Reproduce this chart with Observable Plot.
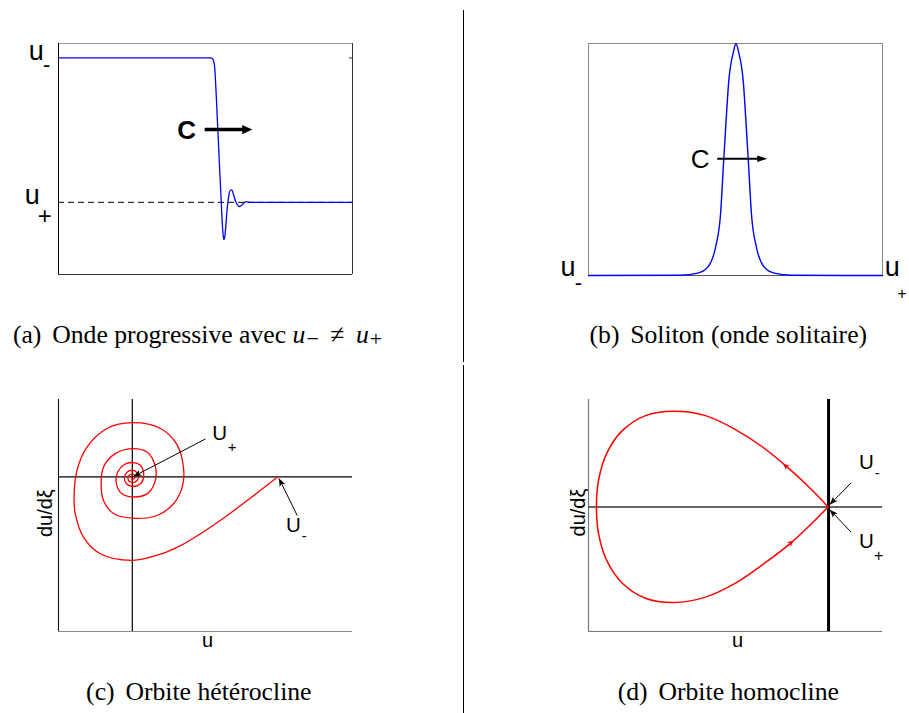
<!DOCTYPE html>
<html><head><meta charset="utf-8">
<script src="https://cdn.jsdelivr.net/npm/d3@7"></script>
<script src="https://cdn.jsdelivr.net/npm/@observablehq/plot@0.6"></script>
<style>
html,body{margin:0;padding:0;background:#fff;}
#fig{position:relative;width:909px;height:713px;overflow:hidden;background:#fff;}
.cap{position:absolute;font-family:"Liberation Serif","Times New Roman",serif;font-size:25.7px;line-height:25px;white-space:nowrap;text-align:center;color:#000;}
.cap .lab{margin-right:0.42em;}
.cap .m{font-style:italic;}
.cap .sub{font-size:0.85em;position:relative;top:3px;line-height:0;margin-left:1px;}
.cap .rel{margin:0 0.45em;}
.vsep{position:absolute;left:463px;width:1px;background:#000;}
</style></head><body>
<div id="fig"></div>
<script>
// ---------- Panel (a): travelling front, u- != u+ ----------
const aX = [0, 5.170, 5.238, 5.282, 5.316, 5.340, 5.374, 5.408, 5.442, 5.476, 5.510, 5.544, 5.578, 5.605, 5.629, 5.656, 5.690, 5.738, 5.793, 5.850, 5.901, 5.952, 6.020, 6.088, 6.156, 6.224, 6.293, 6.361, 6.429, 6.497, 6.599, 10];
const aU = [1, 1, 0.9945, 0.975, 0.927, 0.843, 0.705, 0.553, 0.407, 0.255, 0.109, -0.036, -0.168, -0.237, -0.258, -0.237, -0.168, -0.043, 0.047, 0.084, 0.084, 0.054, 0.009, -0.019, -0.029, -0.022, -0.006, 0.003, 0.003, -0.001, 0, 0];
const aLevels = [1, 0];            // u-, u+
const aXDomain = [0, 10];
const aYDomain = [-0.5, 1.1];
const aArrow = {x1: 4.97, x2: 6.59, y: 0.504};

// ---------- Panel (b): soliton ----------
const bX = [0, 3.146, 3.714, 4.054, 4.323, 4.493, 4.592, 4.66, 4.772, 4.922, 5.017, 5.112, 5.262, 5.374, 5.442, 5.541, 5.711, 5.98, 6.32, 6.888, 10];
const bU = [0, 0.001, 0.010, 0.036, 0.122, 0.267, 0.483, 0.625, 0.84, 0.96, 1, 0.96, 0.84, 0.625, 0.483, 0.267, 0.122, 0.036, 0.010, 0.001, 0];
const bXDomain = [0, 10];
const bYDomain = [0, 1];
const bArrow = {x1: 4.378, x2: 6.078, y: 0.503};

// ---------- Panel (c): heteroclinic orbit (phase plane) ----------
const cU = [7.46, 6.53, 5.68, 4.83, 4.15, 3.47, 2.52, 1.42, 0.85, 0.57, 0.53, 0.63, 0.97, 1.65, 2.51, 3.47, 4.04, 4.26, 4.21, 3.92, 3.35, 2.51, 1.87, 1.53, 1.45, 1.53, 1.93, 2.51, 3.01, 3.30, 3.26, 3.01, 2.51, 2.16, 1.97, 2.01, 2.24, 2.51, 2.78, 2.90, 2.81, 2.51, 2.31, 2.24, 2.33, 2.51, 2.67, 2.72, 2.61, 2.44, 2.36, 2.44, 2.56, 2.60, 2.51, 2.48];
const cV = [0, -0.55, -1.03, -1.47, -1.78, -2.0, -2.16, -1.99, -1.56, -0.95, -0.52, 0.17, 0.77, 1.25, 1.40, 1.25, 0.82, 0.17, -0.26, -0.69, -1.0, -1.07, -0.95, -0.61, -0.22, 0.25, 0.60, 0.73, 0.64, 0.25, -0.18, -0.44, -0.52, -0.44, -0.18, 0.12, 0.32, 0.37, 0.30, 0.04, -0.16, -0.25, -0.18, -0.02, 0.12, 0.17, 0.11, -0.02, -0.13, -0.13, -0.02, 0.06, 0.06, -0.02, -0.07, -0.01];
const cXDomain = [0, 10];
const cYDomain = [-4, 2];
const cUplus = 2.51;
const cArrows = [
  {x1: 5.0, y1: 0.98, x2: 2.55, y2: 0.01},
  {x1: 8.12, y1: -1.0, x2: 7.5, y2: -0.04}
];

// ---------- Panel (d): homoclinic orbit ----------
const dU = [8.15, 7.61, 6.87, 5.91, 5.00, 3.98, 2.90, 1.94, 1.15, 0.64, 0.35, 0.27, 0.35, 0.64, 1.15, 1.94, 2.90, 3.98, 5.00, 5.91, 6.87, 7.61, 8.15];
const dV = [0, 0.155, 0.345, 0.56, 0.72, 0.85, 0.89, 0.85, 0.71, 0.51, 0.26, 0, -0.26, -0.51, -0.71, -0.85, -0.89, -0.84, -0.71, -0.54, -0.34, -0.15, 0];
const dXDomain = [0, 10];
const dYDomain = [-1.16, 1.0];
const dSaddle = 8.165;
const dArrows = [
  {x1: 8.935, y1: 0.224, x2: 8.207, y2: 0.022},
  {x1: 8.935, y1: -0.236, x2: 8.207, y2: -0.027}
];
const dFlow = [
  {x1: 7.27, y1: 0.25, x2: 6.62, y2: 0.401},
  {x1: 5.91, y1: -0.546, x2: 6.98, y2: -0.313}
];

// ---------- text ----------
const captions = [
  {lab: "(a)", html: 'Onde progressive avec <span class="m">u</span><span class="sub">−</span><span class="rel">≠</span><span class="m">u</span><span class="sub">+</span>'},
  {lab: "(b)", html: "Soliton (onde solitaire)"},
  {lab: "(c)", html: "Orbite hétérocline"},
  {lab: "(d)", html: "Orbite homocline"}
];
const axisLabels = ["u", "du/dξ"];

// ---------- helpers ----------
const KX = 29.4;
const fig = document.getElementById("fig");
const st = {fontFamily: "'Liberation Sans', Arial, sans-serif", background: "transparent", overflow: "visible", color: "#000"};
function rot(a, ky) { return Math.atan2(-(a.y2 - a.y1) * ky, (a.x2 - a.x1) * KX) * 180 / Math.PI; }
function head(L, W, B) { return {draw(ctx) { ctx.moveTo(0, 0); ctx.lineTo(-L, -W); ctx.lineTo(-B, 0); ctx.lineTo(-L, W); ctx.closePath(); }}; }
const triA = head(10, 4.6, 10), triB = head(10, 3.3, 10), barb = head(8, 3.2, 6), barbRed = head(6.5, 3, 4.5);
function label(s, x, y, size, o = {}) {
  return Plot.text([s], {text: d => d, x, y, fontSize: size, textAnchor: "start", lineAnchor: "bottom", fill: "#000", ...o});
}
function place(svg, left, top) {
  svg.style.position = "absolute"; svg.style.left = left + "px"; svg.style.top = top + "px";
  fig.appendChild(svg);
}
const rows = (xs, ys) => xs.map((x, i) => ({x, y: ys[i]}));

// ---------- (a) ----------
place(Plot.plot({
  width: 460, height: 360, marginLeft: 58, marginRight: 108, marginTop: 43, marginBottom: 86,
  x: {domain: aXDomain, axis: null}, y: {domain: aYDomain, axis: null}, style: st,
  marks: [
    Plot.ruleY([aYDomain[1]], {stroke: "#999"}),
    Plot.ruleY([aYDomain[0]], {stroke: "#333"}),
    Plot.ruleX([aXDomain[1]], {stroke: "#333"}),
    Plot.ruleX([aXDomain[0]], {stroke: "#000"}),
    Plot.ruleY([aLevels[0]], {x1: 9.9, x2: 10, stroke: "#333"}),
    Plot.ruleY([aLevels[1]], {stroke: "#000", strokeDasharray: "6,4"}),
    Plot.line(rows(aX, aU), {x: "x", y: "y", stroke: "#0000ff", strokeWidth: 1.3, curve: "monotone-x"}),
    Plot.link([aArrow], {x1: "x1", y1: "y", x2: d => d.x2 - 6 / KX, y2: "y", stroke: "#000", strokeWidth: 3.5, strokeLinecap: "butt"}),
    Plot.dot([aArrow], {x: "x2", y: "y", symbol: triA, fill: "#000", stroke: "none", r: 5}),
    label("u", -1.01, 0.987, 27),
    label("-", -0.53, 0.90, 22),
    label("u", -1.15, -0.01, 27),
    label("+", -0.71, -0.151, 24),
    label("C", 4.04, 0.44, 26, {fontWeight: "bold"})
  ]
}), 0, 0);

// ---------- (b) ----------
place(Plot.plot({
  width: 449, height: 360, marginLeft: 128, marginRight: 27, marginTop: 43, marginBottom: 85,
  x: {domain: bXDomain, axis: null}, y: {domain: bYDomain, axis: null}, style: st,
  marks: [
    Plot.ruleY([bYDomain[1]], {stroke: "#888"}),
    Plot.ruleY([bYDomain[0]], {stroke: "#555"}),
    Plot.ruleX([bXDomain[0]], {stroke: "#888"}),
    Plot.ruleX([bXDomain[1]], {stroke: "#888"}),
    Plot.line(rows(bX, bU), {x: "x", y: "y", stroke: "#0000ff", strokeWidth: 1.4, curve: "monotone-x"}),
    Plot.link([bArrow], {x1: "x1", y1: "y", x2: d => d.x2 - 6 / KX, y2: "y", stroke: "#000", strokeWidth: 2, strokeLinecap: "butt"}),
    Plot.dot([bArrow], {x: "x2", y: "y", symbol: triB, fill: "#000", stroke: "none", r: 5}),
    label("u", -0.95, -0.004, 27),
    label("-", -0.47, -0.061, 22),
    label("u", 10.08, -0.004, 27),
    label("+", 10.5, -0.10, 16),
    label("C", 3.48, 0.464, 26)
  ]
}), 460, 0);

// ---------- (c) ----------
place(Plot.plot({
  width: 460, height: 353, marginLeft: 58, marginRight: 108, marginTop: 39, marginBottom: 82,
  x: {domain: cXDomain, axis: null}, y: {domain: cYDomain, axis: null}, style: st,
  marks: [
    Plot.ruleY([cYDomain[0]], {stroke: "#888", strokeWidth: 1.2}),
    Plot.ruleX([cXDomain[0]], {stroke: "#111", strokeWidth: 1.1}),
    Plot.ruleY([0], {stroke: "#000", strokeWidth: 1.3}),
    Plot.ruleX([cUplus], {stroke: "#000", strokeWidth: 1.2}),
    Plot.line(rows(cU, cV), {x: "x", y: "y", stroke: "#ff0000", strokeWidth: 1.3, curve: "catmull-rom"}),
    Plot.link(cArrows, {x1: "x1", y1: "y1", x2: "x2", y2: "y2", stroke: "#000", strokeWidth: 1}),
    Plot.dot(cArrows, {x: "x2", y: "y2", symbol: barb, fill: "#000", stroke: "none", r: 4, rotate: d => rot(d, 38.67)}),
    Plot.text([axisLabels[0]], {text: d => d, x: 5.07, y: -4.41, fontSize: 20, textAnchor: "middle", lineAnchor: "bottom"}),
    Plot.text([axisLabels[1]], {text: d => d, x: -0.44, y: -0.94, fontSize: 20, textAnchor: "middle", lineAnchor: "middle", rotate: -90}),
    label("U", 5.23, 0.94, 20.5),
    label("+", 5.76, 0.644, 15),
    label("U", 7.74, -1.415, 20.5),
    label("-", 8.27, -1.647, 15)
  ]
}), 0, 360);

// ---------- (d) ----------
place(Plot.plot({
  width: 449, height: 353, marginLeft: 128, marginRight: 27, marginTop: 39, marginBottom: 82,
  x: {domain: dXDomain, axis: null}, y: {domain: dYDomain, axis: null}, style: st,
  marks: [
    Plot.ruleY([dYDomain[0]], {stroke: "#777", strokeWidth: 1.2}),
    Plot.ruleX([dXDomain[0]], {stroke: "#777", strokeWidth: 1.2}),
    Plot.ruleY([0], {stroke: "#333", strokeWidth: 1.5}),
    Plot.ruleX([dSaddle], {stroke: "#000", strokeWidth: 3}),
    Plot.line(rows(dU, dV), {x: "x", y: "y", stroke: "#ff0000", strokeWidth: 1.5, curve: "catmull-rom"}),
    Plot.dot(dFlow, {x: "x2", y: "y2", symbol: barbRed, fill: "#ff0000", stroke: "none", r: 4, rotate: d => rot(d, 107.4)}),
    Plot.link(dArrows, {x1: "x1", y1: "y1", x2: "x2", y2: "y2", stroke: "#000", strokeWidth: 1}),
    Plot.dot(dArrows, {x: "x2", y: "y2", symbol: barb, fill: "#000", stroke: "none", r: 4, rotate: d => rot(d, 107.4)}),
    Plot.text([axisLabels[0]], {text: d => d, x: 5.07, y: -1.306, fontSize: 20, textAnchor: "middle", lineAnchor: "bottom"}),
    Plot.text([axisLabels[1]], {text: d => d, x: -0.34, y: -0.052, fontSize: 20, textAnchor: "middle", lineAnchor: "middle", rotate: -90}),
    label("U", 9.20, 0.355, 20.5),
    label("-", 9.74, 0.271, 15),
    label("U", 9.20, -0.381, 20.5),
    label("+", 9.71, -0.508, 16)
  ]
}), 460, 360);

// ---------- separators ----------
[[10, 352], [365, 348]].forEach(([t, h]) => {
  const s = document.createElement("div"); s.className = "vsep";
  s.style.top = t + "px"; s.style.height = h + "px"; fig.appendChild(s);
});

// ---------- captions ----------
const capPos = [[197.5, 322], [728.3, 322], [198.8, 679], [728.3, 679]];
captions.forEach((c, i) => {
  const d = document.createElement("div"); d.className = "cap";
  d.style.left = (capPos[i][0] - 250) + "px"; d.style.width = "500px"; d.style.top = capPos[i][1] + "px";
  d.innerHTML = '<span class="lab">' + c.lab + '</span>' + c.html;
  fig.appendChild(d);
});
</script></body></html>
